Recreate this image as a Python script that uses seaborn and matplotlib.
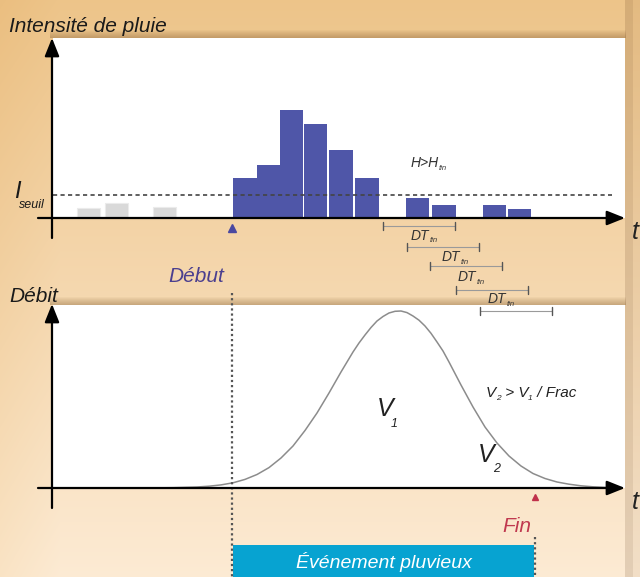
import numpy as np
import seaborn as sns
import matplotlib.pyplot as plt
from matplotlib.patches import Rectangle

# rain intensity (time steps, intensity units)
grey_start = [1.0, 2.15, 4.15]
grey_height = [1.0, 1.5, 1.1]
rain_start = [7.5, 8.5, 9.45, 10.45, 11.5, 12.6, 14.7, 15.8, 17.9, 18.95]
rain_height = [4.0, 5.3, 10.8, 9.4, 6.8, 4.0, 2.0, 1.3, 1.3, 0.9]
seuil = 2.3

# discharge
t_q = [4.0, 5.0, 6.0, 6.5, 7.0, 7.5, 8.0, 8.5, 9.0, 9.5, 10.0, 10.5, 11.0,
       11.5, 12.0, 12.5, 12.75, 13.0, 13.25, 13.5, 13.75, 14.0, 14.25, 14.5,
       14.75, 15.0, 15.25, 15.5, 15.75, 16.0, 16.25, 16.5,
       17.0, 17.5, 18.0, 18.5, 19.0, 19.5, 20.0, 20.5, 21.0, 21.5, 22.0,
       22.5, 23.0, 23.5]
q = [0.01, 0.03, 0.1, 0.18, 0.31, 0.52, 0.86, 1.35, 2.04, 3.0, 4.2, 5.75, 7.5,
     9.5, 11.6, 13.6, 14.5, 15.3, 16.05, 16.7, 17.15, 17.5, 17.67, 17.7,
     17.54, 17.2, 16.78, 16.2, 15.47, 14.6, 13.7, 12.6,
     10.3, 8.1, 6.1, 4.5, 3.2, 2.2, 1.45, 0.95, 0.6, 0.38, 0.22,
     0.12, 0.06, 0.03]

debut, fin = 7.46, 20.08
dt_start = [13.75, 14.75, 15.7, 16.8, 17.8]
dt_len = 3.0

sns.set_theme(style="white")
plt.rcParams["font.family"] = ["Liberation Sans", "DejaVu Sans"]

W, H = 640, 577
PX, X0 = 24.0, 53.0   # pixels per time step, x of the time origin


def tx(px):
    return (px - X0) / PX


fig = plt.figure(figsize=(W / 100, H / 100), dpi=100)

# background
bg = fig.add_axes([0, 0, 1, 1], zorder=0)
yy = np.linspace(0, 1, H)[:, None, None]
top = np.array([0.93, 0.77, 0.54])
bot = np.array([0.99, 0.92, 0.83])
img = np.repeat(top + (bot - top) * yy, W, axis=1)
fade = np.clip(np.arange(W) / 60.0, 0, 1)[None, :, None]
img = img * (fade + (1 - fade) * np.array([0.99, 0.97, 0.93]))
img[:, 625:633] *= np.array([0.9, 0.88, 0.86])
img[:, 633:] *= np.array([0.96, 0.95, 0.94])
bg.imshow(np.clip(img, 0, 1), extent=(0, W, H, 0), aspect="auto")
bg.set_xlim(0, W)
bg.set_ylim(H, 0)
bg.set_axis_off()
for k in range(1, 9):
    for ytop in (38, 305):
        bg.add_patch(Rectangle((50, ytop - k), 576, k, color="#7a5526",
                               alpha=0.05, lw=0))

xmax = 572 / PX
ax1 = fig.add_axes([X0 / W, 1 - 218 / H, 572 / W, 180 / H], zorder=1)
ax2 = fig.add_axes([X0 / W, 1 - 488 / H, 572 / W, 183 / H], zorder=1)
for ax in (ax1, ax2):
    ax.set_facecolor("white")
    for s in ax.spines.values():
        s.set_visible(False)

ax1.bar(grey_start, grey_height, width=0.97, align="edge",
        color="#d9d9d9", edgecolor="#ebebeb", lw=0.8)
ax1.bar(rain_start, rain_height, width=0.98, align="edge",
        color="#4f56a8", lw=0)
ax1.hlines(seuil, 0, tx(612), colors="#444444", lw=1.2,
           linestyles=(0, (2.5, 2)))
ax1.set_xlim(0, xmax)
ax1.set_ylim(0, 18)

sns.lineplot(x=t_q, y=q, ax=ax2, color="#8c8c8c", lw=1.1)
ax2.set_xlim(0, xmax)
ax2.set_ylim(0, 18.3)

for ax in (ax1, ax2):
    ax.set_xticks([])
    ax.set_yticks([])
    ax.set_xlabel("")
    ax.set_ylabel("")

# overlay: x in time steps, y in pixels
ov = fig.add_axes([0, 0, 1, 1], zorder=2)
ov.patch.set_alpha(0)
ov.set_xlim(tx(0), tx(W))
ov.set_ylim(H, 0)
ov.set_axis_off()
renderer = fig.canvas.get_renderer()


def label(xpx, y, parts, fs, sfs, drop, color="#222222"):
    # draw text pieces one after the other; sub pieces are smaller and lower
    x = tx(xpx)
    for txt, is_sub in parts:
        t = ov.text(x, y + (drop if is_sub else 0), txt,
                    fontsize=sfs if is_sub else fs, style="italic",
                    ha="left", va="center", color=color)
        bb = t.get_window_extent(renderer)
        x = ov.transData.inverted().transform((bb.x1, 0))[0]


arrow = dict(arrowstyle="-|>,head_length=0.55,head_width=0.22",
             mutation_scale=20, lw=1.6, color="black",
             shrinkA=0, shrinkB=0)
for ybase, ytop, ylow in ((218, 38, 238), (488, 304, 508)):
    ov.annotate("", xy=(tx(52), ytop), xytext=(tx(52), ylow), arrowprops=arrow)
    ov.annotate("", xy=(tx(625), ybase), xytext=(tx(38), ybase),
                arrowprops=arrow)
    ov.text(tx(635), ybase + 14, "t", fontsize=18, style="italic",
            ha="center", va="center", color="#222222")

# DT_fin windows
dt_row = [226, 247, 266, 290, 311]
for s, yr in zip(dt_start, dt_row):
    ov.plot([s, s + dt_len], [yr, yr], color="#9a9a9a", lw=0.8)
    ov.plot([s, s], [yr - 4, yr + 4], color="#555555", lw=1.0)
    ov.plot([s + dt_len, s + dt_len], [yr - 4, yr + 4], color="#555555", lw=1.0)
for xl, yl in ((411, 236), (442, 257), (458, 277), (488, 299)):
    label(xl, yl, [("DT", False), ("fin", True)], 10, 5.5, 5, "#333333")
label(411, 163, [("H>H", False), ("fin", True)], 10, 5.5, 5, "#333333")

# start / end markers
ov.plot([debut, debut], [293, H], color="#555555", lw=1.6,
        linestyle=(0, (1, 1.3)))
ov.plot([fin, fin], [537, H], color="#555555", lw=1.6,
        linestyle=(0, (1, 1.3)))
ov.plot(debut, 228, marker="^", color="#4a48a0", ms=6)
ov.plot(fin, 497, marker="^", color="#c0304a", ms=5)
ov.add_patch(Rectangle((debut + 0.04, 545), fin - debut - 0.08, 32,
                       color="#07a3d1", lw=0))
ov.text((debut + fin) / 2, 562, "Événement pluvieux", fontsize=14,
        style="italic", color="white", ha="center", va="center")

ov.text(tx(9), 26, "Intensité de pluie", fontsize=15, style="italic",
        ha="left", va="center", color="#1a1a1a")
ov.text(tx(9), 297, "Débit", fontsize=15, style="italic",
        ha="left", va="center", color="#1a1a1a")
ov.text(tx(196), 277, "Début", fontsize=15, style="italic",
        ha="center", va="center", color="#4b3f8f")
ov.text(tx(531), 527, "Fin", fontsize=15, style="italic",
        ha="right", va="center", color="#c0394f")
ov.text(tx(14), 191, "I", fontsize=17, style="italic",
        ha="left", va="center", color="#1a1a1a")
ov.text(tx(19), 205, "seuil", fontsize=9, style="italic",
        ha="left", va="center", color="#1a1a1a")

label(377, 409, [("V", False)], 18, 9, 0)
ov.text(tx(391), 424, "1", fontsize=9, style="italic",
        ha="left", va="center", color="#222222")
label(478, 455, [("V", False)], 18, 9, 0)
ov.text(tx(493), 469, "2", fontsize=9, style="italic",
        ha="left", va="center", color="#222222")
label(486, 393, [("V", False), ("2", True), (" > V", False), ("1", True),
                 (" / Frac", False)], 11, 6, 5)

fig.savefig("out.png", dpi=100)
